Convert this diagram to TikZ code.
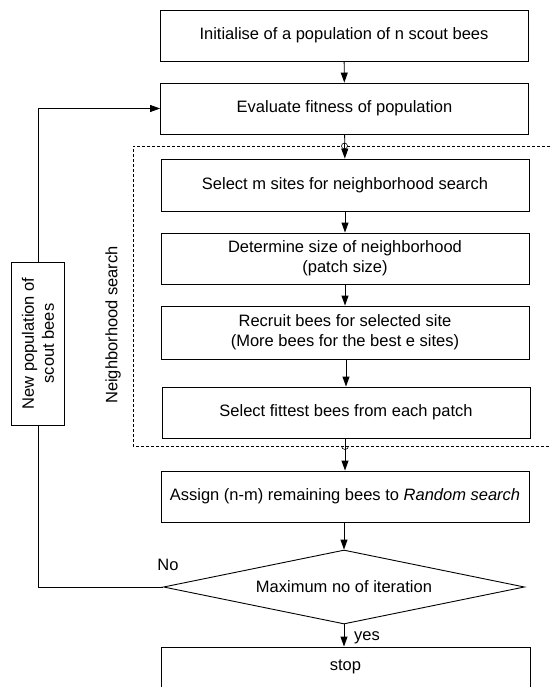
\documentclass[tikz,border=0pt]{standalone}
\usepackage{fontspec}
\setmainfont{Liberation Sans}
\usetikzlibrary{arrows.meta,shapes.geometric}
\begin{document}
\begin{tikzpicture}[x=1pt,y=-1pt,
  every node/.style={font=\fontsize{16.5}{20}\selectfont},
  box/.style={draw, line width=0.9pt, minimum width=368pt, minimum height=51pt, inner sep=0pt, align=center},
  arr/.style={line width=0.9pt, -{Triangle[length=10pt,width=7pt]}},
  ln/.style={line width=0.9pt},
  dashbox/.style={line width=0.7pt, dash pattern=on 3pt off 2pt}]
\useasboundingbox (0,0) rectangle (550,687);

% dashed neighborhood region
\draw[dashbox] (570,146) -- (133,146) -- (133,446) -- (570,446);
\node[rotate=90] (nslabel) at (113,325) {Neighborhood search};

% main boxes
\node[box] (b1) at (344,35.5) {Initialise of a population of n scout bees};
\node[box] (b2) at (344.5,108.5) {Evaluate fitness of population};
\node[box, minimum height=52pt] (b3) at (345,185) {Select m sites for neighborhood search};
\node[box] (b4) at (345,258.5) {Determine size of neighborhood\\(patch size)};
\node[box, minimum height=53pt] (b5) at (345,332.5) {Recruit bees for selected site\\(More bees for the best e sites)};
\node[box] (b6) at (346,412.5) {Select fittest bees from each patch};
\node[box] (b7) at (345,496.5) {Assign (n-m) remaining bees to \textit{Random search}};
\node[draw, diamond, line width=0.9pt, minimum width=361pt, minimum height=74pt, inner sep=0pt, aspect=4.9] (dia) at (344,587) {Maximum no of iteration};
\node[box, minimum height=56pt, minimum width=369pt] (stop) at (345.5,675) {};
\node (stoptext) at (345.5,667) {stop};

% feedback box
\node[draw, line width=0.9pt, rotate=90, minimum width=163pt, minimum height=53pt, inner sep=0pt, align=center] (newpop) at (38,343.5) {New population of\\scout bees};

% connectors
\draw[arr] (b1) -- (b2);
\draw[arr] (b2) -- (b3);
\draw[arr] (b3) -- (b4);
\draw[arr] (b4) -- (b5);
\draw[arr] (b5.south -| b6.north) -- (b6.north);
\draw[arr] (b6.south -| b7.north) -- (b7.north);
\draw[arr] (b7.south -| dia.north) -- (dia.north);
\draw[arr] (dia.south) -- (dia.south |- stop.north);
\draw[ln] (dia.west) -| (newpop.west);
\draw[arr] (newpop.east) |- (b2.west);

% line hops on the dashed border
\coordinate (hoptop) at (b2.south |- 0,146);
\coordinate (hopbot) at (b7.north |- 0,446);
\draw[line width=0.6pt, fill=white] (hoptop) circle (3pt);
\draw[line width=0.9pt] (hoptop) ++(0,-3) -- ++(0,6);
\fill[white] ([xshift=-4pt]hopbot) rectangle ([xshift=4pt,yshift=1.5pt]hopbot);
\draw[line width=0.6pt] ([xshift=-3.5pt]hopbot) arc (180:360:3.5pt);
\draw[line width=0.9pt] ([yshift=-3pt]hopbot) -- ([yshift=3pt]hopbot);

% labels
\node (nolbl) at (168,565) {No};
\node (yeslbl) at (367,638) {yes};
\end{tikzpicture}
\end{document}
